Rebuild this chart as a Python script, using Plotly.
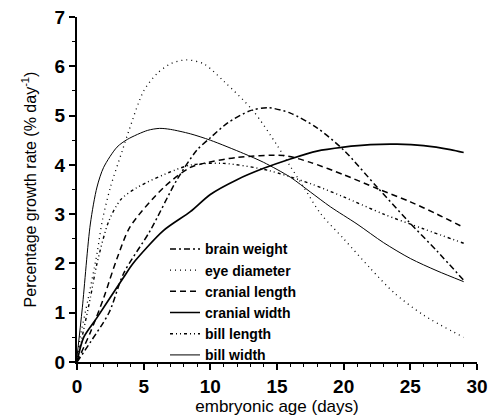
import plotly.graph_objects as go

# Data (x: embryonic age in days, y: % day^-1)
brain_x = [0, 1, 2.4, 3.5, 5.5, 7.5, 9, 10, 11.3, 13, 14.3, 16, 18, 20, 22.5, 24.8, 27, 29]
brain_y = [0, 0.4, 1.0, 1.8, 2.67, 3.7, 4.3, 4.55, 4.85, 5.1, 5.16, 5.05, 4.75, 4.3, 3.55, 2.87, 2.25, 1.66]

eye_x = [0, 0.2, 0.85, 1.5, 1.9, 2.5, 3.4, 3.9, 5, 6, 7, 8.2, 9.5, 11, 13.2, 15, 16, 17, 18.3, 20, 22, 23.8, 26, 29]
eye_y = [0, 0.45, 1.3, 2.2, 2.87, 3.54, 4.29, 4.7, 5.5, 5.85, 6.05, 6.13, 6.05, 5.7, 5.1, 4.4, 3.97, 3.55, 3.0, 2.5, 1.9, 1.4, 0.95, 0.5]

cranl_x = [0, 1, 2, 3, 4, 6.5, 8.5, 9.5, 12, 15.5, 17.5, 20, 22.5, 25, 27, 29]
cranl_y = [0, 0.6, 1.3, 2.1, 2.75, 3.54, 3.95, 4.03, 4.15, 4.19, 4.05, 3.8, 3.52, 3.25, 3.0, 2.73]

cranw_x = [0, 0.5, 1.5, 3.5, 4.2, 6.5, 8.5, 10, 12, 14, 16, 18, 20, 22, 24, 26, 28, 29]
cranw_y = [0, 0.5, 0.9, 1.72, 2.0, 2.67, 3.05, 3.4, 3.7, 3.93, 4.12, 4.28, 4.36, 4.41, 4.42, 4.39, 4.31, 4.25]

billl_x = [0, 0.3, 1, 1.5, 2.4, 3.3, 4.5, 7.3, 8.6, 11, 14.3, 17.5, 20, 23, 26, 29]
billl_y = [0, 0.4, 1.3, 2.0, 2.87, 3.3, 3.54, 3.89, 4.0, 4.03, 3.89, 3.62, 3.35, 3.0, 2.7, 2.41]

billw_x = [0, 0.4, 1, 1.5, 2, 3, 3.8, 5.3, 6.2, 7, 8.5, 10, 12.5, 14, 16, 17.5, 19, 21, 23, 25, 27, 29]
billw_y = [0.1, 1.1, 2.8, 3.55, 3.95, 4.36, 4.52, 4.7, 4.74, 4.72, 4.63, 4.5, 4.23, 4.05, 3.75, 3.45, 3.15, 2.8, 2.42, 2.1, 1.85, 1.63]

names = ["brain weight", "eye diameter", "cranial length", "cranial width", "bill length", "bill width"]
xs = [brain_x, eye_x, cranl_x, cranw_x, billl_x, billw_x]
ys = [brain_y, eye_y, cranl_y, cranw_y, billl_y, billw_y]
dashes = ["6px,3px,2px,3px", "1px,4px", "6px,4px", "solid", "3px,3px,1px,3px,1px,3px", "solid"]
widths = [1.5, 1.3, 1.5, 1.7, 1.4, 1.0]

xticks = [0, 5, 10, 15, 20, 25, 30]
yticks = [0, 1, 2, 3, 4, 5, 6, 7]

fig = go.Figure()
for n, x, y, d, w in zip(names, xs, ys, dashes, widths):
    fig.add_trace(go.Scatter(x=x, y=y, name=n, mode="lines",
                             line=dict(color="black", width=w, dash=d, shape="spline", smoothing=0.8)))

font_family = "Liberation Sans, Arial, sans-serif"
fig.update_layout(
    width=500, height=419,
    margin=dict(l=69, r=31, t=9, b=65, autoexpand=False),
    plot_bgcolor="white", paper_bgcolor="white",
    font=dict(family=font_family, color="black"),
    showlegend=True,
    legend=dict(x=0.22, y=0.373, xanchor="left", yanchor="top",
                bgcolor="rgba(0,0,0,0)", font=dict(size=14, weight="bold"),
                itemwidth=30, tracegroupgap=0),
    xaxis=dict(range=[0, 30], tickvals=xticks, ticktext=[str(v) for v in xticks],
               showgrid=False, zeroline=False, showline=True, linecolor="black", linewidth=2,
               ticks="outside", ticklen=6, tickwidth=2, tickcolor="black", automargin=False,
               tickfont=dict(size=19, weight="bold"), ticklabeloverflow="allow",
               minor=dict(dtick=1, ticks="outside", ticklen=3, tickwidth=1, tickcolor="black"),
               title=dict(text="embryonic age (days)", font=dict(size=17), standoff=2)),
    yaxis=dict(range=[0, 7], tickvals=yticks, ticktext=[str(v) for v in yticks],
               showgrid=False, zeroline=False, showline=True, linecolor="black", linewidth=2,
               ticks="outside", ticklen=6, tickwidth=2, tickcolor="black", automargin=False,
               tickfont=dict(size=19, weight="bold"), ticklabeloverflow="allow",
               minor=dict(dtick=0.5, ticks="outside", ticklen=3, tickwidth=1, tickcolor="black"),
               title=dict(text="Percentage growth rate (% day<sup>-1</sup>)", font=dict(size=16), standoff=14)),
)

fig.write_html("out.html")
